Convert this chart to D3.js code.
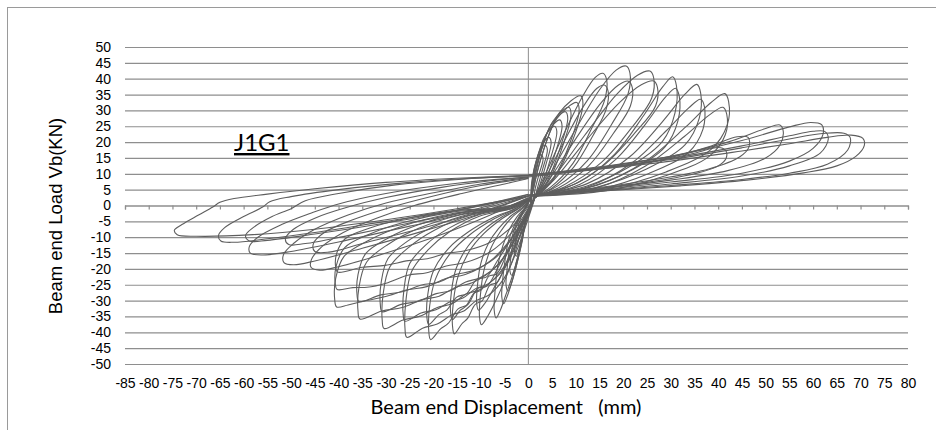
<!DOCTYPE html>
<html>
<head>
<meta charset="utf-8">
<script src="https://cdn.jsdelivr.net/npm/d3@7"></script>
<style>
  body { margin: 0; background: #fff; }
</style>
</head>
<body>
<div id="viz"></div>
<script>
const width = 936;
const height = 430;

// axis ticks
const xTicks = [-85, -80, -75, -70, -65, -60, -55, -50, -45, -40, -35, -30, -25, -20, -15, -10, -5,
  0, 5, 10, 15, 20, 25, 30, 35, 40, 45, 50, 55, 60, 65, 70, 75, 80];
const yTicks = [-50, -45, -40, -35, -30, -25, -20, -15, -10, -5, 0, 5, 10, 15, 20, 25, 30, 35, 40, 45, 50];

// early push half-cycles (displacement mm, load kN)
const pushEarly = [
  [[0.5,1],[0.7,7.2],[1.6,13.6],[2.6,16],[3.1,14.9],[2.2,9.6],[1.3,4],[1.5,2.5]],
  [[0.5,1],[0.9,8.6],[2.1,16.2],[3.5,19],[4,17.7],[3,11.4],[1.8,4.8],[1.5,2.5]],
  [[0.5,1],[1.1,9.7],[2.6,18.3],[4.3,21.5],[4.8,20],[3.7,12.9],[2.2,5.4],[1.5,2.5]],
  [[0.5,1],[1.4,11.3],[3.3,21.3],[5.5,25],[6,23.3],[4.7,15],[2.8,6.3],[1.5,2.5]],
  [[0.5,1],[1.7,12.2],[4,23],[6.6,27],[7.1,25.1],[5.6,16.2],[3.3,6.8],[1.5,2.5]],
  [[0.5,1],[2,13.3],[4.7,25.2],[7.8,29.6],[8.3,27.5],[6.6,17.8],[3.9,7.4],[1.5,2.5]],
  [[0.5,1],[2.1,14],[5.1,26.4],[8.5,31],[9,28.8],[7.2,18.6],[4.3,7.8],[1.5,2.5]],
  [[0.5,1],[2.6,14.6],[6.1,27.6],[10.2,32.5],[10.7,30.2],[8.7,19.5],[5.1,8.1],[1.5,2.5]],
  [[0.5,1],[2.8,15.6],[6.6,29.4],[11,34.6],[11.5,32.2],[9.4,20.8],[5.5,8.7],[1.5,2.5]],
  [[1,2],[3.1,8.3],[7.2,21.7],[11.5,34.6],[14.1,40.4],[15.7,41.7],[16.5,39.6],[16.1,33.4],[13.3,24.2],[9.4,13.3],[4.7,5.8],[1.5,3]],
  [[1,2],[3.2,7.6],[7.4,19.8],[11.7,31.5],[14.4,36.9],[16,38],[16.8,36.1],[16.4,30.4],[13.6,22],[9.6,12.2],[4.8,5.3],[1.5,3]],
  [[1,2],[4.1,8.8],[9.5,22.9],[15,36.5],[18.5,42.7],[20.6,44],[21.4,41.8],[21,35.2],[17.5,25.5],[12.4,14.1],[6.2,6.2],[1.5,3]],
  [[1,2],[4.2,7.8],[9.7,20.4],[15.4,32.5],[19,38],[21.1,39.2],[21.9,37.2],[21.5,31.4],[17.9,22.7],[12.7,12.5],[6.3,5.5],[1.5,3]],
  [[1,2],[5.1,8.5],[11.8,22],[18.7,35.2],[23,41.1],[25.6,42.4],[26.4,40.3],[26,33.9],[21.8,24.6],[15.4,13.6],[7.7,5.9],[1.5,3]],
  [[1,2],[5.3,7.9],[12.1,20.4],[19.3,32.6],[23.8,38.1],[26.4,39.3],[27.2,37.3],[26.8,31.4],[22.4,22.8],[15.8,12.6],[7.9,5.5],[1.5,3]],
  [[1,3],[10.6,7.3],[18.2,16.2],[24.3,28.4],[28.3,37.4],[30.4,40.6],[31.2,37.8],[30.9,29.2],[28.3,20.3],[21.3,12.2],[12.2,6.1],[1.5,3]],
  [[1,3],[10.9,6.7],[18.6,14.8],[24.8,25.9],[28.8,34],[31,37],[31.8,34.4],[31.5,26.6],[28.8,18.5],[21.7,11.1],[12.4,5.6],[1.5,3]],
  [[1,3],[12.4,6.9],[21.3,15.3],[28.4,26.7],[33,35.1],[35.5,38.2],[36.3,35.5],[36,27.5],[33,19.1],[24.9,11.5],[14.2,5.7],[1.5,3]],
  [[1,3],[12.7,6],[21.8,13.4],[29,23.5],[33.8,30.8],[36.3,33.5],[37.1,31.2],[36.8,24.1],[33.8,16.8],[25.4,10.1],[14.5,5],[1.5,3]],
  [[1,3],[14.5,6.4],[24.8,14.1],[33.1,24.7],[38.5,32.5],[41.4,35.3],[42.2,32.8],[41.9,25.4],[38.5,17.7],[29,10.6],[16.6,5.3],[1.5,3]],
  [[1,3],[14.4,5.6],[24.6,12.4],[32.8,21.7],[38.1,28.5],[41,31],[41.8,28.8],[41.5,22.3],[38.1,15.5],[28.7,9.3],[16.4,4.7],[1.5,3]]
];

// early pull half-cycles
const pullEarly = [
  [[1.5,3],[-0.3,-2.4],[-0.8,-6.7],[-1.3,-10.1],[-1.8,-12.8],[-2.2,-14.9],[-2.5,-16],[-2.9,-14.9],[-2.7,-12],[-2.4,-8.8],[-2,-5.8],[-1.5,-3.5],[-0.9,-1.6],[-0.3,-0.3],[0.5,2.5]],
  [[1.5,3],[-0.4,-3.3],[-1.1,-9.2],[-1.8,-13.9],[-2.5,-17.6],[-3,-20.5],[-3.5,-22],[-3.9,-20.5],[-3.7,-16.5],[-3.3,-12.1],[-2.8,-7.9],[-2.1,-4.8],[-1.2,-2.2],[-0.4,-0.4],[0.5,2.5]],
  [[1.5,3],[-0.4,-4],[-1.3,-11.3],[-2.2,-17],[-3,-21.6],[-3.7,-25.1],[-4.3,-27],[-4.7,-25.1],[-4.5,-20.3],[-4.1,-14.9],[-3.4,-9.7],[-2.6,-5.9],[-1.5,-2.7],[-0.5,-0.5],[0.5,2.5]],
  [[1.5,3],[-0.5,-4.7],[-1.6,-13],[-2.6,-19.5],[-3.6,-24.8],[-4.5,-28.8],[-5.2,-31],[-5.6,-28.8],[-5.4,-23.3],[-4.9,-17.1],[-4.2,-11.2],[-3.1,-6.8],[-1.8,-3.1],[-0.6,-0.6],[0.5,2.5]],
  [[1.5,3],[-0.7,-5.3],[-2,-14.9],[-3.4,-22.4],[-4.8,-28.4],[-5.9,-33],[-6.8,-35.5],[-7.2,-33],[-7,-26.6],[-6.5,-19.5],[-5.4,-12.8],[-4.1,-7.8],[-2.4,-3.6],[-0.8,-0.7],[0.5,2.5]],
  [[1.5,3],[-1,-5.6],[-3,-15.8],[-5,-23.7],[-6.9,-30.1],[-8.6,-35],[-9.9,-37.6],[-10.3,-35],[-10.1,-28.2],[-9.4,-20.7],[-7.9,-13.5],[-5.9,-8.3],[-3.5,-3.8],[-1.2,-0.8],[0.5,2.5]],
  [[1.5,3],[-1.1,-5],[-3.2,-13.9],[-5.3,-20.8],[-7.4,-26.4],[-9.1,-30.7],[-10.5,-33],[-10.9,-30.7],[-10.7,-24.8],[-10,-18.2],[-8.4,-11.9],[-6.3,-7.3],[-3.7,-3.3],[-1.3,-0.7],[0.5,2.5]],
  [[1.5,3],[-1.6,-7.3],[-4.7,-18.2],[-6.6,-24.3],[-8.1,-25.1],[-9.7,-30],[-11.2,-31.2],[-12.8,-35.6],[-14,-37.3],[-15.6,-40.5],[-16,-37.7],[-15.8,-30.4],[-14.8,-22.3],[-12.5,-14.6],[-9.4,-8.9],[-5.5,-4.1],[-1.9,-0.8],[0.5,2.5]],
  [[1.5,3],[-1.6,-6.5],[-4.8,-16.2],[-6.7,-21.6],[-8.3,-22.3],[-9.9,-26.6],[-11.5,-27.7],[-13.1,-31.7],[-14.4,-33.1],[-16,-36],[-16.4,-33.5],[-16.2,-27],[-15.2,-19.8],[-12.8,-13],[-9.6,-7.9],[-5.6,-3.6],[-1.9,-0.7],[0.5,2.5]],
  [[1.5,3],[-2.1,-7.6],[-6.2,-19],[-8.7,-25.4],[-10.7,-26.2],[-12.8,-31.3],[-14.8,-32.6],[-16.9,-37.2],[-18.5,-38.9],[-20.6,-42.3],[-21,-39.3],[-20.8,-31.7],[-19.6,-23.3],[-16.5,-15.2],[-12.4,-9.3],[-7.2,-4.2],[-2.5,-0.8],[0.5,2.5]],
  [[1.5,3],[-2.1,-6.8],[-6.3,-16.9],[-8.8,-22.5],[-10.9,-23.3],[-13,-27.8],[-15.1,-28.9],[-17.2,-33],[-18.9,-34.5],[-21,-37.5],[-21.4,-34.9],[-21.2,-28.1],[-20,-20.6],[-16.8,-13.5],[-12.6,-8.3],[-7.4,-3.8],[-2.5,-0.8],[0.5,2.5]],
  [[1.5,3],[-2,-12.5],[-5.1,-22.9],[-8.4,-28.3],[-11,-30],[-13.6,-33.3],[-16.1,-34.5],[-19.2,-37.4],[-22.3,-38.7],[-25.6,-41.6],[-26,-38.7],[-25.8,-30],[-24.6,-20.8],[-21.2,-14.1],[-16.6,-8.3],[-10.2,-3.3],[-3.1,-0.8],[0.5,2.5]],
  [[1.5,3],[-2.1,-11],[-5.2,-20.1],[-8.6,-24.8],[-11.2,-26.3],[-13.8,-29.2],[-16.4,-30.3],[-19.5,-32.9],[-22.6,-33.9],[-26,-36.5],[-26.4,-33.9],[-26.2,-26.3],[-25,-18.3],[-21.6,-12.4],[-16.9,-7.3],[-10.4,-2.9],[-3.1,-0.7],[0.5,2.5]],
  [[1.5,3],[-2.4,-11.6],[-6.1,-21.3],[-10,-26.4],[-13.1,-27.9],[-16.1,-31],[-19.2,-32.2],[-22.8,-34.9],[-26.4,-36.1],[-30.4,-38.8],[-30.8,-36.1],[-30.6,-27.9],[-29.2,-19.4],[-25.2,-13.2],[-19.8,-7.8],[-12.2,-3.1],[-3.6,-0.8],[0.5,2.5]],
  [[1.5,3],[-2.5,-10],[-6.2,-18.4],[-10.2,-22.8],[-13.2,-24.1],[-16.3,-26.8],[-19.4,-27.8],[-23.1,-30.2],[-26.8,-31.2],[-30.8,-33.5],[-31.2,-31.2],[-31,-24.1],[-29.6,-16.8],[-25.6,-11.4],[-20,-6.7],[-12.3,-2.7],[-3.7,-0.7],[0.5,2.5]],
  [[1.5,3],[-2.8,-10.7],[-7.1,-19.7],[-11.7,-24.3],[-15.3,-25.8],[-18.8,-28.6],[-22.4,-29.7],[-26.6,-32.2],[-30.9,-33.3],[-35.5,-35.8],[-35.9,-33.3],[-35.7,-25.8],[-34.1,-17.9],[-29.5,-12.2],[-23.1,-7.2],[-14.2,-2.9],[-4.3,-0.7],[0.5,2.5]],
  [[1.5,3],[-2.9,-9.1],[-7.1,-16.7],[-11.8,-20.6],[-15.4,-21.8],[-18.9,-24.2],[-22.5,-25.1],[-26.8,-27.3],[-31.1,-28.2],[-35.7,-30.3],[-36.1,-28.2],[-35.9,-21.8],[-34.3,-15.2],[-29.6,-10.3],[-23.2,-6.1],[-14.3,-2.4],[-4.3,-0.6],[0.5,2.5]],
  [[1.5,3],[-3.2,-9.6],[-8.1,-17.6],[-13.3,-21.8],[-17.4,-23],[-21.4,-25.6],[-25.5,-26.6],[-30.3,-28.8],[-35.1,-30.3],[-38,-31.4],[-40.4,-32],[-40.8,-29.8],[-40.6,-23],[-38.8,-16],[-33.5,-10.9],[-26.3,-6.4],[-16.2,-2.6],[-4.8,-0.6],[0.5,2.5]],
  [[1.5,3],[-3.2,-8],[-8,-14.6],[-13.3,-18],[-17.3,-19.1],[-21.4,-21.2],[-25.4,-22],[-30,-24.5],[-34,-25.8],[-37,-25.9],[-40.3,-26.5],[-40.7,-24.6],[-40.5,-19.1],[-38.7,-13.3],[-33.4,-9],[-26.2,-5.3],[-16.1,-2.1],[-4.8,-0.5],[0.5,2.5]],
  [[1.5,3],[-3.2,-6.3],[-8,-11.6],[-13.3,-14.3],[-17.3,-15.1],[-21.3,-16.8],[-25.3,-17.4],[-30.2,-18.9],[-35,-19.5],[-40.2,-21],[-40.6,-19.5],[-40.4,-15.1],[-38.6,-10.5],[-33.4,-7.1],[-26.1,-4.2],[-16.1,-1.7],[-4.8,-0.4],[0.5,2.5]]
];

// late (degraded) push half-cycles
const pushLate = [
  [[0,9],[12,11],[25,13.5],[35,16.5],[40,18.3],[41.5,17.5],[41.7,15],[40,12.5],[35,10],[25,7.3],[12,5],[0,3]],
  [[0,9.3],[14,11.5],[28,14.5],[38,18.5],[44,21.7],[46.3,21.5],[46.5,18.5],[44.5,15.3],[38,11.5],[28,8.5],[14,5.5],[0,3.2]],
  [[0,9.5],[15,12],[30,15.5],[42,20],[50,24.3],[53,25.4],[53.7,23.5],[53,19],[50,15],[42,11],[30,8],[15,5.3],[0,3.3]],
  [[0,9.6],[15,12.2],[30,15.5],[45,20.5],[55,24.8],[59.5,26.2],[61.8,25.5],[62.1,22.5],[60,18],[55,14],[45,10.2],[30,7.4],[15,5],[0,3.2]],
  [[0,9.4],[15,11.8],[30,14.8],[45,18.8],[55,22],[60,23.4],[62.5,23.3],[63.2,21],[61.5,16.5],[55,12.5],[45,9.3],[30,6.8],[15,4.8],[0,3]],
  [[0,9.5],[15,11.8],[30,14.5],[45,18.2],[55,21],[62,22.7],[66.5,22.8],[67.8,21.5],[67.3,17.5],[63,13],[55,10.2],[45,8.2],[30,6.3],[15,4.6],[0,3]],
  [[0,9.5],[15,11.5],[30,14],[45,17.2],[55,19.5],[63,21.5],[68,22.2],[70.5,21.2],[70.8,19],[69,15.5],[65,12.5],[58,10.3],[46,8],[32,6.2],[15,4.5],[0,3]]
];

// late (degraded) pull half-cycles
const pullLate = [
  [[0,3],[-15,-1],[-30,-4.5],[-45,-7.5],[-58,-9.2],[-70,-9.7],[-74,-9.2],[-74.6,-7.8],[-73,-6],[-69.5,-3],[-66.5,-0.5],[-65,1],[-62,2.2],[-55,3.6],[-45,5.3],[-30,7.3],[-15,8.6],[0,9.5]],
  [[0,3],[-15,-1.5],[-30,-5],[-45,-8.5],[-55,-10.5],[-62,-11.6],[-64.8,-11.2],[-65.3,-9.5],[-64,-7],[-60,-3.5],[-56,-0.5],[-54.5,1.2],[-50,2.8],[-40,5],[-25,7.3],[-12,8.6],[0,9.3]],
  [[0,3.5],[-15,-1.5],[-30,-5.5],[-45,-9],[-55,-11],[-58.8,-11.2],[-59.6,-9.5],[-58,-7],[-54,-3.5],[-50,-1],[-47,1.5],[-40,3.8],[-28,6.5],[-14,8.3],[0,9.4]],
  [[0,3],[-12,-2],[-25,-6.5],[-40,-11.5],[-50,-14.5],[-56,-15.6],[-58.6,-15],[-58.8,-13],[-57,-10],[-52,-6],[-46,-2.5],[-40,0.5],[-30,3.8],[-15,7],[0,9]],
  [[0,3],[-10,-2.5],[-22,-8],[-35,-13.5],[-45,-17.5],[-49.5,-18.7],[-51.5,-18],[-51.6,-15.5],[-49.5,-12],[-45,-7.5],[-38,-3],[-30,0.8],[-20,4],[-10,6.8],[0,8.8]],
  [[0,3.5],[-12,-1.5],[-25,-5.5],[-38,-9.5],[-47,-12],[-50.5,-12.3],[-51.2,-10.5],[-49.5,-7.5],[-45,-4],[-38,-0.5],[-30,2.5],[-18,5.8],[-8,7.8],[0,9]],
  [[0,2.5],[-8,-3],[-18,-9],[-30,-15],[-40,-19.3],[-44,-20.4],[-45.8,-19.5],[-45.7,-17],[-43.5,-13],[-39,-8.5],[-32,-4],[-24,0],[-14,3.8],[-5,6.8],[0,8.5]],
  [[0,3],[-10,-2],[-22,-7],[-35,-12],[-42,-14.7],[-45,-14.5],[-45.3,-12],[-43,-8.5],[-37,-4.5],[-30,-1],[-20,3],[-10,6.3],[0,8.6]]
];

const loops = [...pullEarly, ...pushEarly, ...pullLate, ...pushLate];

const plot = { left: 125, right: 908, top: 47, bottom: 364 };
const labelFont = '"Liberation Sans", Arial, sans-serif';

const container = d3.create('svg')
  .attr('width', width)
  .attr('height', height)
  .style('display', 'block')
  .style('background', '#fff');

// outer frame (only top/left visible in the picture)
container.append('rect')
  .attr('x', 7.5)
  .attr('y', 7.5)
  .attr('width', width)
  .attr('height', height)
  .attr('fill', 'none')
  .attr('stroke', '#9a9a9a')
  .attr('stroke-width', 1);

const x = d3.scaleLinear()
  .domain([-85, 80])
  .range([plot.left, plot.right]);

const y = d3.scaleLinear()
  .domain([-50, 50])
  .range([plot.bottom, plot.top]);

// horizontal gridlines
container.append('g')
  .attr('class', 'grid')
  .attr('transform', `translate(${plot.left}, 0)`)
  .call(d3.axisLeft(y).tickValues(yTicks).tickSize(-(plot.right - plot.left)).tickFormat(''))
  .call(g => g.select('.domain').remove())
  .call(g => g.selectAll('line').attr('stroke', '#8e8e8e').attr('stroke-width', 1.2));

// y tick labels
container.append('g')
  .attr('class', 'axis axis--y')
  .attr('transform', `translate(${plot.left}, 0)`)
  .call(d3.axisLeft(y).tickValues(yTicks).tickSize(0).tickPadding(14).tickFormat(d => String(d)))
  .call(g => g.select('.domain').remove())
  .call(g => g.selectAll('text')
    .style('font-family', labelFont)
    .style('font-size', '14px')
    .attr('fill', '#000'));

// vertical line at x = 0
container.append('line')
  .attr('x1', x(0))
  .attr('x2', x(0))
  .attr('y1', y(50))
  .attr('y2', y(-50))
  .attr('stroke', '#8e8e8e')
  .attr('stroke-width', 1);

// x axis line with ticks at y = 0
container.append('g')
  .attr('class', 'axis axis--x')
  .attr('transform', `translate(0, ${y(0)})`)
  .call(d3.axisBottom(x).tickValues(xTicks).tickSize(4).tickSizeOuter(4).tickFormat(''))
  .call(g => g.selectAll('line, path').attr('stroke', '#8e8e8e').attr('stroke-width', 1.2));

// x tick labels at the bottom
container.append('g')
  .attr('class', 'axis axis--xlabels')
  .attr('transform', `translate(0, ${plot.bottom})`)
  .call(d3.axisBottom(x).tickValues(xTicks).tickSize(0).tickPadding(14).tickFormat(d => String(d)))
  .call(g => g.select('.domain').remove())
  .call(g => g.selectAll('text')
    .style('font-family', labelFont)
    .style('font-size', '14px')
    .attr('fill', '#000'));

// hysteresis curves
const line = d3.line()
  .x(d => x(d[0]))
  .y(d => y(d[1]))
  .curve(d3.curveCatmullRom.alpha(0.5));

container.append('g')
  .attr('class', 'curves')
  .selectAll('path')
  .data(loops)
  .enter()
    .append('path')
    .attr('d', line)
    .attr('fill', 'none')
    .attr('stroke', '#5e5e5e')
    .attr('stroke-width', 1.1);

// titles
container.append('text')
  .attr('x', 506)
  .attr('y', 414)
  .style('text-anchor', 'middle')
  .style('font-family', 'Lato, "Open Sans", sans-serif')
  .style('font-size', '20px')
  .style('white-space', 'pre')
  .text('Beam end Displacement   (mm)');

container.append('text')
  .attr('transform', 'translate(62, 216) rotate(-90)')
  .style('text-anchor', 'middle')
  .style('font-family', labelFont)
  .style('font-size', '18.5px')
  .text('Beam end Load Vb(KN)');

container.append('text')
  .attr('x', 234)
  .attr('y', 151)
  .style('font-family', 'Lato, "Open Sans", sans-serif')
  .style('font-size', '24px')
  .style('text-decoration', 'underline')
  .text('J1G1');

d3.select('#viz')
  .node().appendChild(container.node());
</script>
</body>
</html>
